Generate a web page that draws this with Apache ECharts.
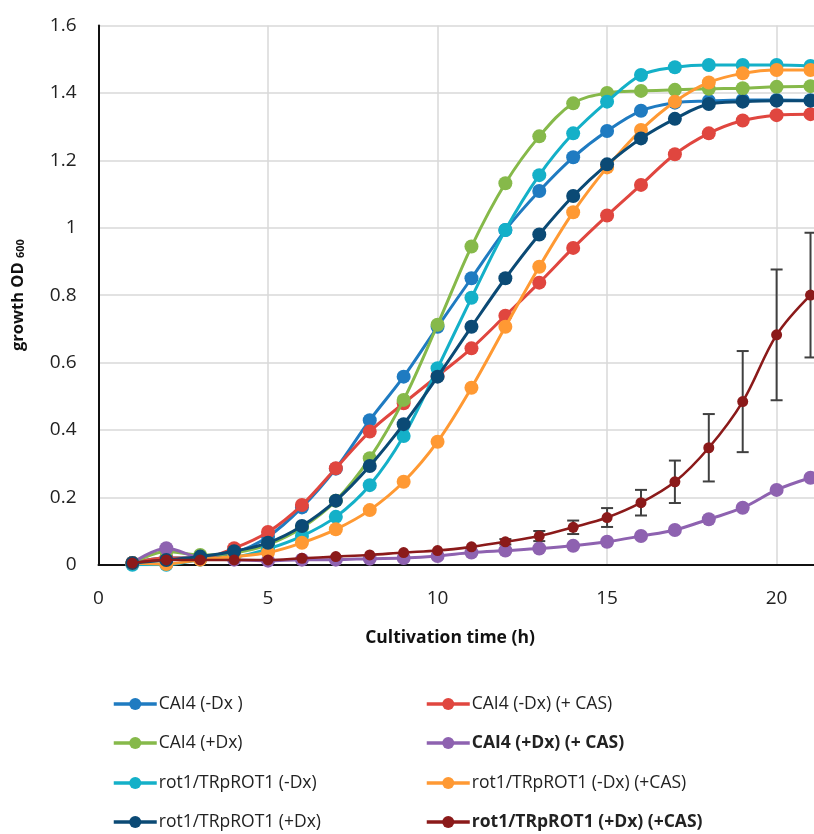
<!DOCTYPE html>
<html>
<head>
<meta charset="utf-8">
<script src="https://cdn.jsdelivr.net/npm/echarts@6/dist/echarts.min.js"></script>
<style>
html,body{margin:0;padding:0;background:#fff;overflow:hidden;width:814px;height:834px;}
#chart{width:960px;height:834px;}
</style>
</head>
<body>
<div id="chart"></div>
<script>
// ---- data ----
var hours = [1,2,3,4,5,6,7,8,9,10,11,12,13,14,15,16,17,18,19,20,21];
var xTicks = [0,5,10,15,20,25];
var yTicks = [0,0.2,0.4,0.6,0.8,1,1.2,1.4,1.6];

var cai4MinusDx      = [0.005,0.02,0.02,0.035,0.083,0.17,0.285,0.429,0.558,0.706,0.85,0.993,1.109,1.209,1.287,1.347,1.371,1.376,1.379,1.379,1.378];
var cai4MinusDxCas   = [0.005,0.02,0.02,0.049,0.097,0.177,0.286,0.395,0.479,0.56,0.642,0.739,0.837,0.94,1.036,1.127,1.218,1.28,1.318,1.334,1.337];
var cai4PlusDx       = [0.005,0.039,0.029,0.035,0.06,0.11,0.19,0.316,0.489,0.712,0.944,1.132,1.271,1.369,1.40,1.406,1.409,1.412,1.414,1.418,1.42];
var cai4PlusDxCas    = [0.005,0.049,0.02,0.015,0.012,0.015,0.015,0.018,0.02,0.026,0.036,0.042,0.048,0.056,0.068,0.085,0.103,0.135,0.169,0.222,0.258];
var rotMinusDx       = [0.0,0.0,0.015,0.022,0.047,0.085,0.142,0.236,0.382,0.583,0.792,0.993,1.156,1.28,1.374,1.453,1.476,1.483,1.483,1.483,1.48];
var rotMinusDxCas    = [0.005,0.002,0.015,0.024,0.036,0.065,0.105,0.162,0.246,0.365,0.525,0.706,0.884,1.046,1.179,1.29,1.374,1.431,1.458,1.468,1.468];
var rotPlusDx        = [0.005,0.014,0.024,0.04,0.065,0.115,0.19,0.293,0.417,0.558,0.706,0.85,0.98,1.094,1.188,1.265,1.323,1.367,1.374,1.377,1.377];
var rotPlusDxCas     = [0.005,0.014,0.014,0.014,0.014,0.019,0.024,0.029,0.036,0.042,0.053,0.068,0.085,0.111,0.14,0.184,0.246,0.347,0.484,0.682,0.8];
var rotPlusDxCasErr  = [0,0,0,0,0,0,0,0,0,0.004,0.005,0.008,0.015,0.02,0.028,0.038,0.063,0.1,0.15,0.194,0.185];

var names = ['CAI4 (-Dx )','CAI4 (-Dx) (+ CAS)','CAI4 (+Dx)','CAI4 (+Dx) (+ CAS)',
             'rot1/TRpROT1 (-Dx)','rot1/TRpROT1 (-Dx) (+CAS)','rot1/TRpROT1 (+Dx)','rot1/TRpROT1 (+Dx) (+CAS)'];
var values = [cai4MinusDx,cai4MinusDxCas,cai4PlusDx,cai4PlusDxCas,rotMinusDx,rotMinusDxCas,rotPlusDx,rotPlusDxCas];
var colors = ['#1F7BC1','#E0463F','#86B94A','#8E62B0','#14B0C8','#FF9933','#0B4A75','#8B1A1A'];

// ---- chart ----
var FONT = '"Open Sans", "Liberation Sans", sans-serif';
function pairs(arr){ return hours.map(function(h,i){ return [h, arr[i]]; }); }

var series = [];
names.forEach(function(n,i){
  var dark = (i === 7);
  series.push({
    name: n, type: 'line', data: pairs(values[i]),
    smooth: 0.35,
    symbol: 'circle', symbolSize: dark ? 11 : 14,
    lineStyle: {color: colors[i], width: dark ? 2.6 : 3},
    itemStyle: {color: colors[i]},
    emphasis: {disabled: true},
    z: 3 + i
  });
});
// error bars for the last series
series.push({
  type: 'custom', name: 'err',
  data: hours.map(function(h,i){ return [h, rotPlusDxCas[i]-rotPlusDxCasErr[i], rotPlusDxCas[i]+rotPlusDxCasErr[i]]; })
        .filter(function(d){ return d[2]-d[1] > 0.015; }),
  renderItem: function(params, api){
    var lo = api.coord([api.value(0), api.value(1)]);
    var hi = api.coord([api.value(0), api.value(2)]);
    var w = 6;
    var st = {stroke: '#404040', lineWidth: 2};
    return {type:'group', children:[
      {type:'line', shape:{x1:lo[0],y1:lo[1],x2:hi[0],y2:hi[1]}, style: st},
      {type:'line', shape:{x1:lo[0]-w,y1:lo[1],x2:lo[0]+w,y2:lo[1]}, style: st},
      {type:'line', shape:{x1:hi[0]-w,y1:hi[1],x2:hi[0]+w,y2:hi[1]}, style: st}
    ]};
  },
  z: 2, silent: true
});

// legend: 2 columns x 4 rows, one legend per entry
var legendOrder = [[0,1],[2,3],[4,5],[6,7]];
var colLeft = [112, 425];
var rowTop = [695, 734, 774, 813];
var legends = [];
legendOrder.forEach(function(row, r){
  row.forEach(function(idx, c){
    var d = {name: names[idx]};
    if (idx === 3 || idx === 7) d.textStyle = {fontWeight: 'bold'};
    legends.push({
      left: colLeft[c], top: rowTop[r], orient: 'horizontal',
      itemWidth: 43, itemHeight: 15, padding: 0,
      lineStyle: {width: 3.5},
      textStyle: {fontFamily: FONT, fontSize: 17.5, color: '#222', padding: [0,0,0,-3]},
      selectedMode: false, data: [d]
    });
  });
});

var option = {
  backgroundColor: '#fff',
  animation: false,
  color: colors,
  grid: {left: 98.5, top: 25.5, width: 858.75, height: 539.2},
  title: {
    text: 'Cultivation time (h)', left: 445, top: 624, textAlign: 'center',
    textStyle: {fontFamily: FONT, fontSize: 17.5, fontWeight: 'bold', color: '#111'}
  },
  legend: legends,
  xAxis: {
    type: 'value', min: xTicks[0], max: xTicks[xTicks.length-1], interval: 5,
    axisLine: {lineStyle: {color: '#111', width: 2}},
    axisTick: {show: false},
    axisLabel: {fontFamily: FONT, fontSize: 19, color: '#222', margin: 24},
    splitLine: {show: true, lineStyle: {color: '#D9D9D9', width: 1.5}}
  },
  yAxis: {
    type: 'value', min: yTicks[0], max: yTicks[yTicks.length-1], interval: 0.2,
    name: '{a|growth OD }{s|600}', nameLocation: 'middle', nameGap: 72, nameRotate: 90,
    nameTextStyle: {
      rich: {
        a: {fontFamily: FONT, fontSize: 16.5, fontWeight: 'bold', color: '#111'},
        s: {fontFamily: FONT, fontSize: 11, fontWeight: 'bold', color: '#111', verticalAlign: 'bottom', padding:[6,0,0,0]}
      }
    },
    axisLine: {show: true, lineStyle: {color: '#111', width: 2}},
    axisTick: {show: false},
    axisLabel: {fontFamily: FONT, fontSize: 19, color: '#222', margin: 22},
    splitLine: {show: true, lineStyle: {color: '#D9D9D9', width: 1.5}}
  },
  series: series
};

var chart = echarts.init(document.getElementById('chart'), null, {renderer: 'canvas'});
chart.setOption(option);
</script>
</body>
</html>
